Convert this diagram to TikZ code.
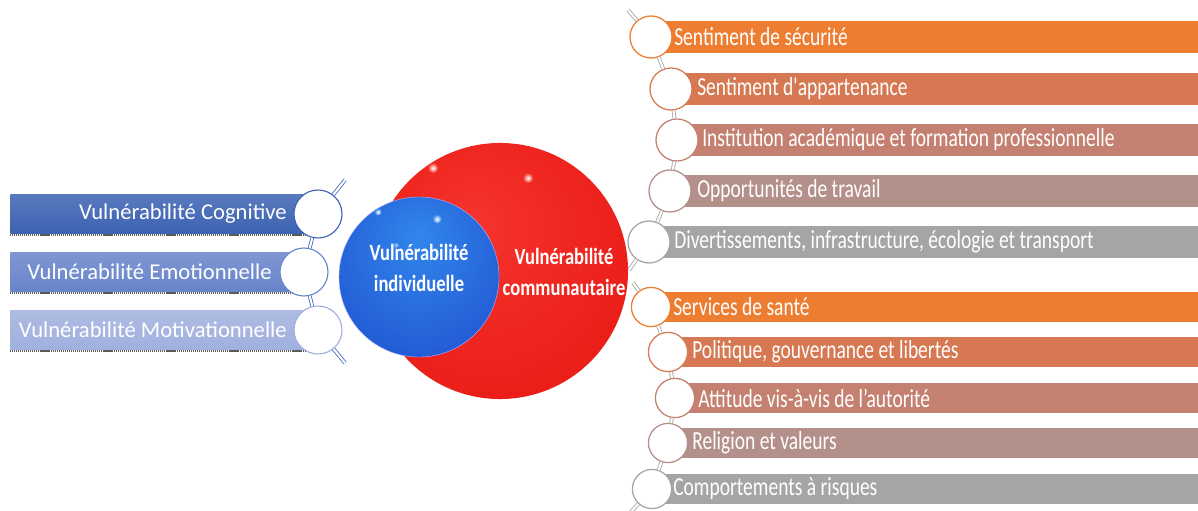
\documentclass[tikz,border=0pt]{standalone}
\usepackage{fontspec}
\setmainfont{Carlito}
\newfontfamily\condfont[FakeStretch=0.75]{Carlito}
\newfontfamily\boldcond[FakeStretch=0.8]{Carlito}

\definecolor{lblueA}{RGB}{60,98,178}
\definecolor{lblueB}{RGB}{104,132,202}
\definecolor{lblueC}{RGB}{160,176,222}
\definecolor{lconn}{RGB}{70,110,190}
\definecolor{orA}{RGB}{237,125,49}
\definecolor{orB}{RGB}{214,121,82}
\definecolor{orC}{RGB}{196,128,112}
\definecolor{orD}{RGB}{180,144,138}
\definecolor{grA}{RGB}{165,165,165}
\definecolor{redA}{RGB}{246,52,46}
\definecolor{redB}{RGB}{234,28,22}
\definecolor{redC}{RGB}{212,16,14}
\definecolor{bluA}{RGB}{50,134,236}
\definecolor{bluB}{RGB}{34,90,212}
\definecolor{bluC}{RGB}{24,58,182}

\pgfdeclareradialshading{redsphere}{\pgfpoint{-6bp}{10bp}}{color(0bp)=(redA); color(32bp)=(redB); color(47bp)=(redC); color(50bp)=(redC)}
\pgfdeclareradialshading{bluesphere}{\pgfpoint{0bp}{14bp}}{color(0bp)=(bluA); color(32bp)=(bluB); color(48bp)=(bluC); color(50bp)=(bluC)}

\begin{document}
\begin{tikzpicture}[x=0.025cm,y=-0.025cm,
  lbar/.style={anchor=west,minimum height=0.98cm,inner sep=0pt},
  lcirc/.style={circle,fill=white,line width=0.8pt,minimum size=1.2cm,inner sep=0pt},
  ltext/.style={anchor=east,text=white,inner sep=0pt,font=\fontsize{16.1}{19}\selectfont},
  lshadow/.style={black!65,line width=1.3pt,dash pattern=on 0.8pt off 0.6pt},
  rbar/.style={anchor=west,minimum height=0.8cm,inner sep=0pt,minimum width=14cm},
  rbarb/.style={rbar,minimum height=0.725cm},
  rcirc/.style={circle,fill=white,line width=0.9pt,minimum size=1.05cm,inner sep=0pt},
  rcircb/.style={rcirc,minimum size=0.98cm},
  rtext/.style={anchor=west,text=white,inner sep=0pt,font=\condfont\fontsize{18.5}{21}\selectfont},
  stext/.style={text=white,align=center,font=\boldcond\bfseries\fontsize{16.5}{21.5}\selectfont},
  conn/.style={line width=0.6pt,double=white,double distance=1.5pt}]
\useasboundingbox (0,0) rectangle (1198,511);

% spheres
\node[circle,minimum size=6.4cm,shading=redsphere] (comm) at (500,271) {};
\shade[inner color=white,outer color=redA] (433,168) circle (5);
\shade[inner color=white,outer color=redA] (528,178) circle (5);
\node[circle,minimum size=4cm,shading=bluesphere,draw=white!70!blue,line width=0.3pt] (indiv) at (419,277) {};
\shade[inner color=white,outer color=bluA] (437,219) circle (4.5);
\shade[inner color=white,outer color=bluA] (378,212) circle (3.5);
\shade[inner color=white!60!bluA,outer color=bluA] (396,245) circle (3);
\node[stext] (indivtxt) at (419,268) {Vulnérabilité\\individuelle};
\node[stext] (commtxt) at (564,272) {Vulnérabilité\\communautaire};

% left side
\node[lbar,top color=lblueA!85!white,bottom color=lblueA,minimum width=7.7cm] (lb1) at (10,214) {};
\node[lbar,top color=lblueB!85!white,bottom color=lblueB,minimum width=7.35cm] (lb2) at (10,272) {};
\node[lbar,top color=lblueC!85!white,bottom color=lblueC,minimum width=7.7cm] (lb3) at (10,330) {};
\draw[lshadow] ([yshift=-1pt]lb1.south west) -- ([yshift=-1pt]lb1.south east);
\draw[lshadow] ([yshift=-1pt]lb2.south west) -- ([yshift=-1pt]lb2.south east);
\draw[lshadow] ([yshift=-1pt]lb3.south west) -- ([yshift=-1pt]lb3.south east);
\node[lcirc,draw=lblueA] (lc1) at (318,214) {};
\node[lcirc,draw=lblueB] (lc2) at (304,272) {};
\node[lcirc,draw=lblueC] (lc3) at (318,330) {};
\node[ltext] (lt1) at (287,214) {Vulnérabilité Cognitive};
\node[ltext] (lt2) at (272,272) {Vulnérabilité Emotionnelle};
\node[ltext] (lt3) at (287,330) {Vulnérabilité Motivationnelle};
\coordinate (ltop) at (345,180);
\coordinate (lbot) at (345,363);
\draw[conn,draw=lconn] (ltop) -- (lc1);
\draw[conn,draw=lconn] (lc1) -- (lc2);
\draw[conn,draw=lconn] (lc2) -- (lc3);
\draw[conn,draw=lconn] (lc3) -- (lbot);

% right side, first group
\node[rbar,fill=orA] (ra1) at (651,37) {};
\node[rbar,fill=orB] (ra2) at (671,89) {};
\node[rbar,fill=orC] (ra3) at (677,140) {};
\node[rbar,fill=orD] (ra4) at (670,191) {};
\node[rbar,fill=grA] (ra5) at (649,242) {};
\node[rcirc,draw=orA] (ca1) at (651,37) {};
\node[rcirc,draw=orB] (ca2) at (671,89) {};
\node[rcirc,draw=orC] (ca3) at (677,140) {};
\node[rcirc,draw=orD] (ca4) at (670,191) {};
\node[rcirc,draw=grA] (ca5) at (649,242) {};
\node[rtext] (ta1) at (674,37) {Sentiment de sécurité};
\node[rtext] (ta2) at (697,89) {Sentiment d'appartenance};
\node[rtext] (ta3) at (702,140) {Institution académique et formation professionnelle};
\node[rtext] (ta4) at (697,191) {Opportunités de travail};
\node[rtext] (ta5) at (674,242) {Divertissements, infrastructure, écologie et transport};
\coordinate (atop) at (628,10);
\coordinate (abot) at (629,270);
\draw[conn,draw=grA] (atop) -- (ca1);
\draw[conn,draw=grA] (ca1) -- (ca2);
\draw[conn,draw=grA] (ca2) -- (ca3);
\draw[conn,draw=grA] (ca3) -- (ca4);
\draw[conn,draw=grA] (ca4) -- (ca5);
\draw[conn,draw=grA] (ca5) -- (abot);

% right side, second group
\node[rbarb,fill=orA] (rb1) at (651,307) {};
\node[rbarb,fill=orB] (rb2) at (668,352) {};
\node[rbarb,fill=orC] (rb3) at (675,398) {};
\node[rbarb,fill=orD] (rb4) at (668,443) {};
\node[rbarb,fill=grA] (rb5) at (652,489) {};
\node[rcircb,draw=orA] (cb1) at (651,307) {};
\node[rcircb,draw=orB] (cb2) at (668,352) {};
\node[rcircb,draw=orC] (cb3) at (675,398) {};
\node[rcircb,draw=orD] (cb4) at (668,443) {};
\node[rcircb,draw=grA] (cb5) at (652,489) {};
\node[rtext] (tb1) at (673,307) {Services de santé};
\node[rtext] (tb2) at (692,352) {Politique, gouvernance et libertés};
\node[rtext] (tb3) at (698,398) {Attitude vis-à-vis de l’autorité};
\node[rtext] (tb4) at (692,443) {Religion et valeurs};
\node[rtext] (tb5) at (673,489) {Comportements à risques};
\coordinate (btop) at (633,283);
\coordinate (bbot) at (628,515);
\draw[conn,draw=grA] (btop) -- (cb1);
\draw[conn,draw=grA] (cb1) -- (cb2);
\draw[conn,draw=grA] (cb2) -- (cb3);
\draw[conn,draw=grA] (cb3) -- (cb4);
\draw[conn,draw=grA] (cb4) -- (cb5);
\draw[conn,draw=grA] (cb5) -- (bbot);
\end{tikzpicture}
\end{document}
